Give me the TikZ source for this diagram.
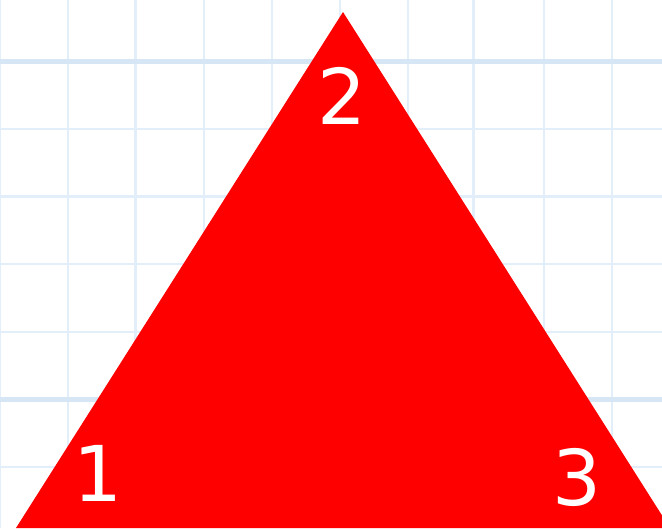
\documentclass[tikz,border=0pt]{standalone}
\usepackage{fontspec}
\setmainfont{DejaVu Sans}
\usepackage{xcolor}
\definecolor{gridblue}{RGB}{226,238,249}
\definecolor{gridmajor}{RGB}{214,230,244}
\usepackage{tikz}

\begin{document}
\begin{tikzpicture}[
  x=1pt, y=-1pt,
  every node/.style={font=\fontsize{77}{77}\selectfont, text=white, inner sep=0pt},
  minorline/.style={draw=gridblue, line width=2.4pt},
  majorline/.style={draw=gridmajor, line width=5pt},
  vmajor/.style={draw=gridblue, line width=3pt},
  tri/.style={fill=red},
]
\useasboundingbox[fill=white] (0,0) rectangle (662,528);
\clip (0,0) rectangle (662,528);
% grid
\foreach \i in {0,1,3,4,5,6,8,9}
  \draw[minorline] (\i*68,0) -- (\i*68,528);
\foreach \i in {2,7}
  \draw[vmajor] (\i*67.6,0) -- (\i*67.6,528);
\foreach \j in {1,2,3,4,6}
  \draw[minorline] (0,61+\j*67.7) -- (662,61+\j*67.7);
\foreach \j in {0,5}
  \draw[majorline] (0,61+\j*67.7) -- (662,61+\j*67.7);
% triangle
\coordinate (c1) at (16,528);
\coordinate (c2) at (343,12);
\coordinate (c3) at (670,528);
\fill[tri] (c1) -- (c2) -- (c3) -- cycle;
\node (n1) at (98,473) {1};
\node (n2) at (342,96) {2};
\node (n3) at (577,477) {3};
\end{tikzpicture}
\end{document}
